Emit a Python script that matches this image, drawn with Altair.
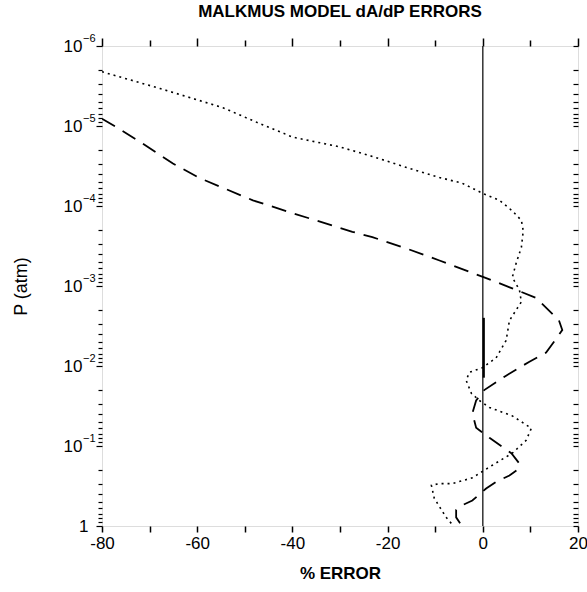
import altair as alt
import pandas as pd

# Malkmus band model dA/dP errors versus pressure
# dashed curve
err_dash = [-80, -76.8, -71.4, -65.1, -59.4, -48.3, -39.9, -27.4, -23.2, -16.0,
            -9.1, 0.3, 6.2, 11.2, 16.0, 16.7, 15.6, 13.3, 9.7, 4.9,
            0.3, -1.4, -2.2, -1.4, 1.4, 6.0, 7.7, 7.2, 5.6, 2.8,
            0.7, -2.2, -4.3, -5.6, -5.6, -4.5]
p_dash = [8.1e-6, 1.05e-5, 1.66e-5, 2.95e-5, 4.5e-5, 8.5e-5, 1.23e-4, 2.1e-4, 2.45e-4, 3.4e-4,
          4.8e-4, 7.8e-4, 1.07e-3, 1.41e-3, 2.7e-3, 3.55e-3, 4.4e-3, 6.8e-3, 8.9e-3, 1.32e-2,
          2.0e-2, 2.7e-2, 3.9e-2, 5.9e-2, 7.9e-2, 0.123, 0.166, 0.2, 0.234, 0.28,
          0.34, 0.48, 0.55, 0.63, 0.78, 0.98]

# dotted curve
err_dot = [-80, -67.8, -54.6, -46.9, -39.9, -30.1, -23.2, -16.0, -9.1, -4.3,
           0.3, 3.5, 6.2, 8.1, 8.5, 8.1, 7.0, 6.2, 7.7, 8.1,
           5.6, 4.9, 2.8, -0.1, -2.8, -3.5, -2.4, -0.7, 1.4, 6.2,
           10.2, 9.1, 6.2, 2.0, -2.2, -6.4, -9.1, -10.8, -10.2, -7.7, -6.6]
p_dot = [2.1e-6, 3.4e-6, 5.9e-6, 9.3e-6, 1.38e-5, 1.82e-5, 2.4e-5, 3.3e-5, 4.4e-5, 5.2e-5,
         7.1e-5, 8.5e-5, 1.15e-4, 1.51e-4, 2.04e-4, 3.3e-4, 5.2e-4, 7.8e-4, 1.12e-3, 1.58e-3,
         2.7e-3, 4.8e-3, 7.9e-3, 1.05e-2, 1.2e-2, 1.51e-2, 2.2e-2, 2.7e-2, 3.3e-2, 4.2e-2,
         6.0e-2, 8.5e-2, 0.123, 0.174, 0.25, 0.295, 0.295, 0.31, 0.45, 0.78, 0.93]

# short solid stretch lying on the zero line
err_solid = [0.2, 0.2]
p_solid = [2.5e-3, 1.4e-2]

zero_err = [0]

x_ticks = list(range(-80, 21, 10))
p_ticks = [m * 10.0 ** e for e in range(-6, 0) for m in range(1, 10)] + [1.0]

# decade labels on the pressure axis: mantissa "10" plus a raised exponent
p_decades = [1e-6, 1e-5, 1e-4, 1e-3, 1e-2, 1e-1]
p_exponents = ["\u22126", "\u22125", "\u22124", "\u22123", "\u22122", "\u22121"]

FONT = "Liberation Sans, Arial, sans-serif"

dash_df = pd.DataFrame({"err": err_dash, "p": p_dash, "i": range(len(err_dash))})
dot_df = pd.DataFrame({"err": err_dot, "p": p_dot, "i": range(len(err_dot))})
solid_df = pd.DataFrame({"err": err_solid, "p": p_solid, "i": range(len(err_solid))})
zero_df = pd.DataFrame({"err": zero_err})
exp_df = pd.DataFrame({"p": p_decades, "lab": p_exponents})

x_scale = alt.Scale(domain=[-80, 20], nice=False, zero=False)
y_scale = alt.Scale(type="log", domain=[1e-6, 1], reverse=True, nice=False)

is_decade = "abs(log(datum.value)/LN10 - round(log(datum.value)/LN10)) < 0.001"
is_one = "abs(datum.value - 1) < 1e-9"
y_label_expr = f"!({is_decade}) ? '' : ({is_one} ? '1' : '10')"

x_bottom = alt.Axis(
    orient="bottom", values=x_ticks, title="% ERROR",
    labelExpr="datum.value % 20 == 0 ? '' + datum.value : ''",
    labelOverlap=False, labelFlush=False, labelFont=FONT, labelFontSize=17,
    labelPadding=3, tickSize=6, tickWidth=1.5, tickColor="black", domain=False,
    titleFont=FONT, titleFontSize=17, titleFontWeight="bold", titlePadding=14,
    labelColor="black", titleColor="black",
)
y_left = alt.Axis(
    orient="left", values=p_ticks, title="P  (atm)",
    labelExpr=y_label_expr, labelOverlap=False, labelFlush=False,
    labelFont=FONT, labelFontSize=17,
    labelPadding={"condition": {"test": is_one, "value": 8}, "value": 14},
    tickSize={"condition": {"test": is_decade, "value": 6}, "value": 4},
    tickWidth=1.2, tickColor="black", domain=False,
    titleFont=FONT, titleFontSize=18, titleFontWeight="normal", titlePadding=33,
    labelColor="black", titleColor="black",
)
x_top = alt.Axis(
    orient="top", values=x_ticks, labels=False, title=None,
    tickSize={"condition": {"test": "datum.value % 20 == 0", "value": 8}, "value": 6},
    tickWidth=1.5, tickColor="black", domain=False,
)
y_right = alt.Axis(
    orient="right", values=p_ticks, labels=False, title=None, offset=-5,
    tickSize=5, tickWidth=1.2, tickColor="black", domain=False,
)

dotted = alt.Chart(dot_df).mark_line(
    color="black", strokeWidth=1.6, strokeDash=[2, 4], clip=True
).encode(
    x=alt.X("err:Q", scale=x_scale, axis=x_bottom),
    y=alt.Y("p:Q", scale=y_scale, axis=y_left),
    order="i:O",
)

dashed = alt.Chart(dash_df).mark_line(
    color="black", strokeWidth=1.8, strokeDash=[15, 9], clip=True
).encode(
    x=alt.X("err:Q", scale=x_scale, axis=x_top),
    y=alt.Y("p:Q", scale=y_scale, axis=y_right),
    order="i:O",
)

zero_line = alt.Chart(zero_df).mark_rule(color="#333333", strokeWidth=1.5).encode(
    x=alt.X("err:Q", scale=x_scale, axis=None),
)

solid = alt.Chart(solid_df).mark_line(color="black", strokeWidth=2.2, clip=True).encode(
    x=alt.X("err:Q", scale=x_scale, axis=None),
    y=alt.Y("p:Q", scale=y_scale, axis=None),
    order="i:O",
)

# raised exponents placed just right of the "10" mantissas
exponents = alt.Chart(exp_df).mark_text(
    align="left", baseline="middle", dx=0, dy=-7, fontSize=11, font=FONT, color="black"
).encode(
    x=alt.value(-19),
    y=alt.Y("p:Q", scale=y_scale, axis=None),
    text="lab:N",
)

chart = (
    alt.layer(zero_line, solid, dotted, dashed, exponents)
    .resolve_axis(x="independent", y="independent")
    .properties(
        width=476,
        height=480,
        title=alt.TitleParams(
            "MALKMUS MODEL dA/dP ERRORS", font=FONT, fontSize=17,
            fontWeight="bold", anchor="middle", offset=12, color="black",
        ),
        autosize=alt.AutoSizeParams(type="none"),
        padding={"left": 102, "top": 46, "right": 9, "bottom": 66},
    )
    .configure_view(stroke="black", strokeWidth=2.5)
    .configure(background="white")
)

chart.save("out.html", embed_options={"renderer": "svg", "actions": False})
